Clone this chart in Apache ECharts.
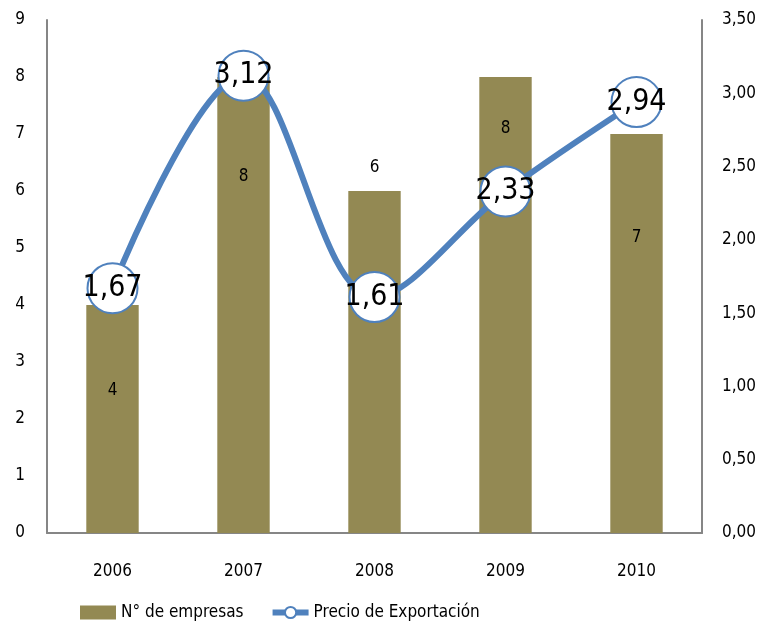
<!DOCTYPE html>
<html>
<head>
<meta charset="utf-8">
<script src="https://cdn.jsdelivr.net/npm/echarts@6/dist/echarts.min.js"></script>
<style>
  html, body { margin: 0; padding: 0; background: #fff; }
  #chart { width: 767px; height: 630px; }
</style>
</head>
<body>
<div id="chart"></div>
<script>
var years = ['2006', '2007', '2008', '2009', '2010'];
var empresas = [4, 8, 6, 8, 7];
var precio = [1.67, 3.12, 1.61, 2.33, 2.94];

var font = '"Liberation Sans Narrow", "DejaVu Sans Condensed", sans-serif';
// label offsets as laid out in the original (pixels from bar top)
var barLabelOffsets = [85, 99, -24, 51, 103];

function fmt(v) {
  return v.toFixed(2).replace('.', ',');
}

var chart = echarts.init(document.getElementById('chart'));

var option = {
  animation: false,
  textStyle: { fontFamily: font },
  grid: { left: 47, right: 65, top: 20, bottom: 97 },
  legend: {
    bottom: 4,
    left: 75,
    itemGap: 26,
    itemWidth: 36,
    itemHeight: 14,
    textStyle: { fontSize: 17, color: '#000', fontFamily: font },
    data: [
      { name: 'N° de empresas', icon: 'rect' },
      { name: 'Precio de Exportación', lineStyle: { width: 6 } }
    ]
  },
  xAxis: {
    type: 'category',
    data: years,
    axisLine: { lineStyle: { color: '#868686', width: 2 } },
    axisTick: { show: false },
    axisLabel: { color: '#000', fontSize: 17, margin: 30, fontFamily: font }
  },
  yAxis: [
    {
      type: 'value', min: 0, max: 9, interval: 1,
      axisLine: { show: true, lineStyle: { color: '#868686', width: 2 } },
      axisTick: { show: false },
      splitLine: { show: false },
      axisLabel: { color: '#000', fontSize: 17, margin: 22, fontFamily: font }
    },
    {
      type: 'value', min: 0, max: 3.5, interval: 0.5,
      axisLine: { show: true, lineStyle: { color: '#868686', width: 2 } },
      axisTick: { show: false },
      splitLine: { show: false },
      axisLabel: { color: '#000', fontSize: 17, margin: 20, fontFamily: font, formatter: fmt }
    }
  ],
  series: [
    {
      name: 'N° de empresas',
      type: 'bar',
      barWidth: '40%',
      itemStyle: { color: '#938953' },
      data: empresas.map(function (v, i) {
        return {
          value: v,
          label: {
            show: true,
            position: 'insideTop',
            distance: 0,
            offset: [0, barLabelOffsets[i] - 8],
            color: '#000',
            fontSize: 17,
            fontFamily: font
          }
        };
      })
    },
    {
      name: 'Precio de Exportación',
      type: 'line',
      yAxisIndex: 1,
      smooth: 0.35,
      symbol: 'circle',
      symbolSize: 50,
      lineStyle: { color: '#4F81BD', width: 6 },
      itemStyle: { color: '#fff', borderColor: '#4F81BD', borderWidth: 2 },
      label: {
        show: true,
        position: 'inside',
        color: '#000',
        fontSize: 30,
        fontFamily: font,
        formatter: function (p) { return fmt(p.value); }
      },
      z: 5,
      data: precio
    }
  ]
};

chart.setOption(option);
</script>
</body>
</html>
